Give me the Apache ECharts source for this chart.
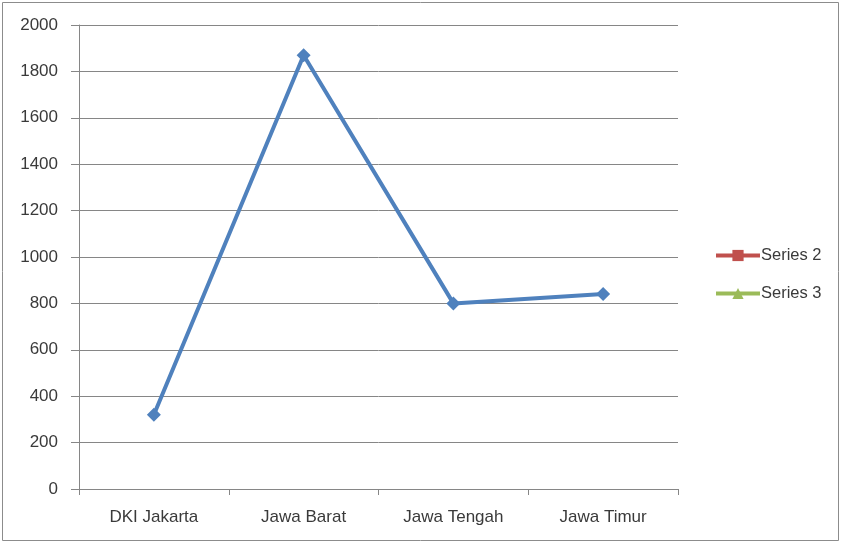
<!DOCTYPE html>
<html>
<head>
<meta charset="utf-8">
<script src="https://cdn.jsdelivr.net/npm/echarts@6/dist/echarts.min.js"></script>
<style>
  html, body { margin: 0; padding: 0; background: #fff; }
  #chart { width: 842px; height: 542px; }
</style>
</head>
<body>
<div id="chart"></div>
<script>
// Provinces along the category axis
const categories = ['DKI Jakarta', 'Jawa Barat', 'Jawa Tengah', 'Jawa Timur'];
// Values of the plotted series
const series1Values = [320, 1870, 800, 840];
// Series listed in the legend without data
const series2Values = [];
const series3Values = [];
// Value axis range
const yMin = 0, yMax = 2000, yStep = 200;

const textColor = '#3a3a3a';
const gridColor = '#868686';
const fontFamily = 'Liberation Sans, Arial, sans-serif';
const fontSize = 17;

const chart = echarts.init(document.getElementById('chart'), null, { renderer: 'canvas' });
chart.setOption({
  animation: false,
  backgroundColor: '#ffffff',
  graphic: [{
    type: 'rect',
    shape: { x: 2.5, y: 2.5, width: 836, height: 538 },
    style: { fill: 'none', stroke: '#8c8c8c', lineWidth: 1 },
    silent: true
  }],
  grid: { left: 79, right: 164, top: 25, bottom: 53, containLabel: false },
  legend: {
    orient: 'vertical',
    left: 709,
    top: 242,
    itemWidth: 44,
    itemHeight: 14,
    itemGap: 21,
    data: ['Series 2', 'Series 3'],
    lineStyle: { width: 4 },
    textStyle: { color: textColor, fontSize: 16.5, fontFamily: fontFamily, padding: [0, 0, 0, -4] }
  },
  xAxis: {
    type: 'category',
    data: categories,
    boundaryGap: true,
    axisLine: { lineStyle: { color: gridColor, width: 1 } },
    axisTick: { show: true, length: 6, inside: false, lineStyle: { color: gridColor } },
    axisLabel: { color: textColor, fontSize: fontSize, fontFamily: fontFamily, margin: 20 },
    splitLine: { show: false }
  },
  yAxis: {
    type: 'value',
    min: yMin, max: yMax, interval: yStep,
    axisLine: { show: true, lineStyle: { color: gridColor, width: 1 } },
    axisTick: { show: true, length: 8, lineStyle: { color: gridColor } },
    axisLabel: { color: textColor, fontSize: fontSize, fontFamily: fontFamily, margin: 21,
                 formatter: v => String(v) },
    splitLine: { show: true, lineStyle: { color: gridColor, width: 1 } }
  },
  series: [
    {
      name: 'Series 1',
      type: 'line',
      data: series1Values,
      symbol: 'diamond',
      symbolSize: 14,
      lineStyle: { color: '#4F81BD', width: 4 },
      itemStyle: { color: '#4F81BD' },
      emphasis: { disabled: true }
    },
    {
      name: 'Series 2',
      type: 'line',
      data: series2Values,
      symbol: 'rect',
      symbolSize: 10,
      lineStyle: { color: '#C0504D', width: 4 },
      itemStyle: { color: '#C0504D' }
    },
    {
      name: 'Series 3',
      type: 'line',
      data: series3Values,
      symbol: 'triangle',
      symbolSize: 11,
      lineStyle: { color: '#9BBB59', width: 4 },
      itemStyle: { color: '#9BBB59' }
    }
  ]
});
</script>
</body>
</html>
